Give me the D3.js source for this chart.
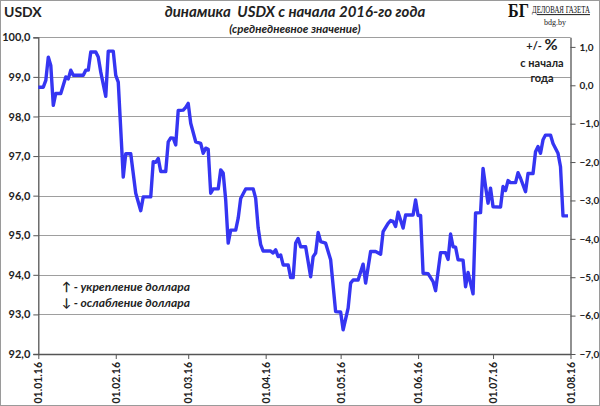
<!DOCTYPE html>
<html>
<head>
<meta charset="utf-8">
<script src="https://cdn.jsdelivr.net/npm/d3@7"></script>
<style>
  body { margin: 0; background: #fff; }
  svg { display: block; }
  text { font-family: Lato, "Open Sans", sans-serif; fill: #222; }
</style>
</head>
<body>
<svg id="chart" width="600" height="406"></svg>
<script>
// daily USDX values (vertices of the line)
var dates = [
  "2016-01-01","2016-01-03","2016-01-04","2016-01-05","2016-01-06","2016-01-07","2016-01-08","2016-01-10",
  "2016-01-12","2016-01-13","2016-01-14","2016-01-15","2016-01-19","2016-01-20","2016-01-21","2016-01-22",
  "2016-01-24","2016-01-25","2016-01-26","2016-01-28","2016-01-29","2016-01-31","2016-02-01","2016-02-02",
  "2016-02-04","2016-02-05","2016-02-07","2016-02-09","2016-02-11","2016-02-12","2016-02-15","2016-02-16",
  "2016-02-17","2016-02-18","2016-02-19","2016-02-21","2016-02-22","2016-02-23","2016-02-24","2016-02-25",
  "2016-02-26","2016-02-28","2016-02-29","2016-03-01","2016-03-02","2016-03-04","2016-03-06","2016-03-07",
  "2016-03-08","2016-03-09","2016-03-10","2016-03-11","2016-03-13","2016-03-14","2016-03-15","2016-03-16",
  "2016-03-17","2016-03-18","2016-03-20","2016-03-21","2016-03-22","2016-03-24","2016-03-27","2016-03-28",
  "2016-03-29","2016-03-30","2016-03-31","2016-04-03","2016-04-04","2016-04-05","2016-04-06","2016-04-07",
  "2016-04-08","2016-04-10","2016-04-11","2016-04-12","2016-04-13","2016-04-14","2016-04-15","2016-04-17",
  "2016-04-19","2016-04-20","2016-04-21","2016-04-22","2016-04-23","2016-04-25","2016-04-27","2016-04-29",
  "2016-05-01","2016-05-02","2016-05-04","2016-05-05","2016-05-06","2016-05-08","2016-05-10","2016-05-11",
  "2016-05-13","2016-05-15","2016-05-17","2016-05-18","2016-05-20","2016-05-21","2016-05-22","2016-05-23",
  "2016-05-24","2016-05-26","2016-05-27","2016-05-30","2016-05-31","2016-06-01","2016-06-02","2016-06-03",
  "2016-06-05","2016-06-07","2016-06-08","2016-06-10","2016-06-12","2016-06-13","2016-06-14","2016-06-15",
  "2016-06-16","2016-06-17","2016-06-19","2016-06-20","2016-06-21","2016-06-23","2016-06-24","2016-06-26",
  "2016-06-27","2016-06-28","2016-06-29","2016-06-30","2016-07-01","2016-07-04","2016-07-05","2016-07-06",
  "2016-07-07","2016-07-08","2016-07-10","2016-07-11","2016-07-12","2016-07-14","2016-07-15","2016-07-17",
  "2016-07-18","2016-07-19","2016-07-20","2016-07-21","2016-07-22","2016-07-24","2016-07-25","2016-07-27",
  "2016-07-28","2016-07-29","2016-07-31"
];
var usdx = [
  98.74, 98.74, 98.91, 99.50, 99.29, 98.28, 98.58, 98.58,
  99.00, 98.95, 99.17, 99.04, 99.04, 99.17, 99.17, 99.63,
  99.63, 99.50, 99.12, 98.51, 99.65, 99.65, 99.04, 98.87,
  96.47, 97.06, 97.06, 96.06, 95.62, 95.97, 95.97, 96.86,
  96.84, 96.94, 96.61, 96.61, 97.36, 97.46, 97.45, 97.28,
  98.15, 98.16, 98.23, 98.33, 97.83, 97.36, 97.32, 97.07,
  97.20, 97.17, 96.06, 96.17, 96.17, 96.65, 96.57, 95.89,
  94.80, 95.13, 95.13, 95.43, 95.93, 96.17, 96.17, 95.93,
  95.18, 94.76, 94.60, 94.60, 94.55, 94.63, 94.46, 94.50,
  94.25, 94.25, 93.93, 93.93, 94.80, 94.92, 94.71, 94.71,
  93.95, 94.46, 94.55, 95.07, 94.84, 94.80, 94.38, 93.07,
  93.06, 92.61, 93.16, 93.79, 93.87, 93.87, 94.27, 93.79,
  94.59, 94.59, 94.52, 95.09, 95.30, 95.37, 95.35, 95.22,
  95.58, 95.18, 95.51, 95.51, 95.89, 95.50, 95.50, 94.04,
  94.03, 93.83, 93.60, 94.56, 94.56, 94.39, 95.03, 94.71,
  94.70, 94.38, 94.37, 93.70, 94.06, 93.52, 95.56, 95.57,
  96.69, 96.23, 95.81, 96.19, 95.72, 95.71, 96.23, 96.13,
  96.38, 96.33, 96.33, 96.58, 96.44, 96.10, 96.56, 96.56,
  97.11, 97.24, 97.07, 97.41, 97.53, 97.53, 97.32, 97.07,
  96.73, 95.49, 95.49
];
var leftTicks = [92, 93, 94, 95, 96, 97, 98, 99, 100];
var rightTicks = [-7, -6, -5, -4, -3, -2, -1, 0, 1];
var monthTicks = ["2016-01-01","2016-02-01","2016-03-01","2016-04-01",
  "2016-05-01","2016-06-01","2016-07-01","2016-08-01"];
var legendLines = ["↑ - укрепление доллара", "↓ - ослабление доллара"];

var parse = d3.utcParse("%Y-%m-%d");
var data = dates.map(function(d, i) { return {date: parse(d), value: usdx[i]}; });

var plot = {left: 38.3, right: 570.5, top: 37.3, bottom: 354};
var svg = d3.select("#chart");
var comma = function(v) { return d3.format(".1f")(v).replace(".", ","); };

var x = d3.scaleUtc()
  .domain([parse("2016-01-01"), parse("2016-08-01")])
  .range([plot.left, plot.right]);
var y = d3.scaleLinear().domain([92, 100]).range([plot.bottom, plot.top]);
var y2 = d3.scaleLinear().domain([-7, 1.25]).range([plot.bottom, plot.top]);

// outer frame
svg.append("rect")
  .attr("x", 0.5).attr("y", 0.5).attr("width", 599).attr("height", 405)
  .attr("fill", "none").attr("stroke", "#9a9a9a");

// gridlines
svg.append("g")
  .selectAll("line")
  .data(leftTicks)
  .enter()
  .append("line")
  .attr("x1", plot.left).attr("x2", plot.right)
  .attr("y1", function(d) { return Math.round(y(d)) + 0.5; })
  .attr("y2", function(d) { return Math.round(y(d)) + 0.5; })
  .attr("stroke", "#9e9e9e").attr("stroke-width", 1);

// left axis
var gLeft = svg.append("g")
  .attr("transform", "translate(" + plot.left + ",0)")
  .call(d3.axisLeft(y).tickValues(leftTicks).tickFormat(comma).tickSize(5).tickPadding(3));

// right axis
var gRight = svg.append("g")
  .attr("transform", "translate(" + plot.right + ",0)")
  .call(d3.axisRight(y2).tickValues(rightTicks).tickFormat(comma).tickSize(5).tickPadding(4).tickSizeOuter(0));

// bottom axis
var gBottom = svg.append("g")
  .attr("transform", "translate(0," + plot.bottom + ")")
  .call(d3.axisBottom(x).tickValues(monthTicks.map(parse))
    .tickFormat(d3.utcFormat("%d.%m.%y")).tickSize(5).tickSizeOuter(0));

gBottom.selectAll("text")
  .attr("transform", "rotate(-90)")
  .attr("text-anchor", "end")
  .attr("x", -8).attr("y", 0).attr("dy", "0.35em")
  .style("font-size", "10.5px").style("font-weight", "bold");

gLeft.selectAll("text").style("font-size", "11px").style("font-weight", "bold");
gRight.selectAll("text").style("font-size", "10px").style("font-weight", "bold");
[gLeft, gRight, gBottom].forEach(function(g) {
  g.selectAll(".domain").attr("stroke", "#555").attr("stroke-width", 1.3);
  g.selectAll(".tick line").attr("stroke", "#555");
  g.attr("font-family", null);
});

// USDX line
var line = d3.line()
  .x(function(d) { return x(d.date); })
  .y(function(d) { return y(d.value); });

svg.append("path")
  .datum(data)
  .attr("d", line)
  .attr("fill", "none")
  .attr("stroke", "#3535f2")
  .attr("stroke-width", 3.4)
  .attr("stroke-linejoin", "round");

// titles
svg.append("text")
  .attr("x", 4).attr("y", 17)
  .style("font-size", "14px").style("font-weight", "bold")
  .text("USDX");

svg.append("text")
  .attr("x", 295).attr("y", 17)
  .attr("text-anchor", "middle")
  .style("white-space", "pre")
  .style("font-size", "15px").style("font-weight", "bold").style("font-style", "italic")
  .text("динамика  USDX с начала 2016-го года");

svg.append("text")
  .attr("x", 295).attr("y", 33)
  .attr("text-anchor", "middle")
  .style("font-size", "11.5px").style("font-weight", "bold").style("font-style", "italic")
  .text("(среднедневное значение)");

// logo (condensed serif via horizontal scale)
svg.append("text")
  .attr("transform", "translate(508,17) scale(0.85,1)")
  .style("font-family", "'Liberation Serif', serif")
  .style("font-size", "19px").style("font-weight", "bold").style("fill", "#111")
  .text("БГ");
svg.append("text")
  .attr("transform", "translate(532,13) scale(0.72,1)")
  .style("font-family", "'Liberation Serif', serif")
  .style("font-size", "9.5px").style("fill", "#111")
  .style("text-decoration", "underline")
  .text("ДЕЛОВАЯ ГАЗЕТА");
svg.append("text")
  .attr("x", 555).attr("y", 25)
  .attr("text-anchor", "middle")
  .style("font-family", "'Liberation Serif', serif")
  .style("font-size", "8px")
  .text("bdg.by");

// right axis header
var head = svg.append("text")
  .attr("x", 542).attr("y", 50)
  .attr("text-anchor", "middle")
  .style("font-size", "11px").style("font-weight", "bold");
head.append("tspan").text("+/- ");
head.append("tspan").style("font-size", "16px").text("%");
svg.append("text")
  .attr("x", 542).attr("y", 67)
  .attr("text-anchor", "middle")
  .style("font-size", "11px").style("font-weight", "bold")
  .text("с начала");
svg.append("text")
  .attr("x", 542).attr("y", 82)
  .attr("text-anchor", "middle")
  .style("font-size", "11px").style("font-weight", "bold")
  .text("года");

// legend note
svg.append("g")
  .selectAll("text")
  .data(legendLines)
  .enter()
  .append("text")
  .attr("x", 62)
  .attr("y", function(d, i) { return 291 + i * 16; })
  .style("font-size", "12px").style("font-weight", "bold").style("font-style", "italic")
  .text(function(d) { return d; });
</script>
</body>
</html>
